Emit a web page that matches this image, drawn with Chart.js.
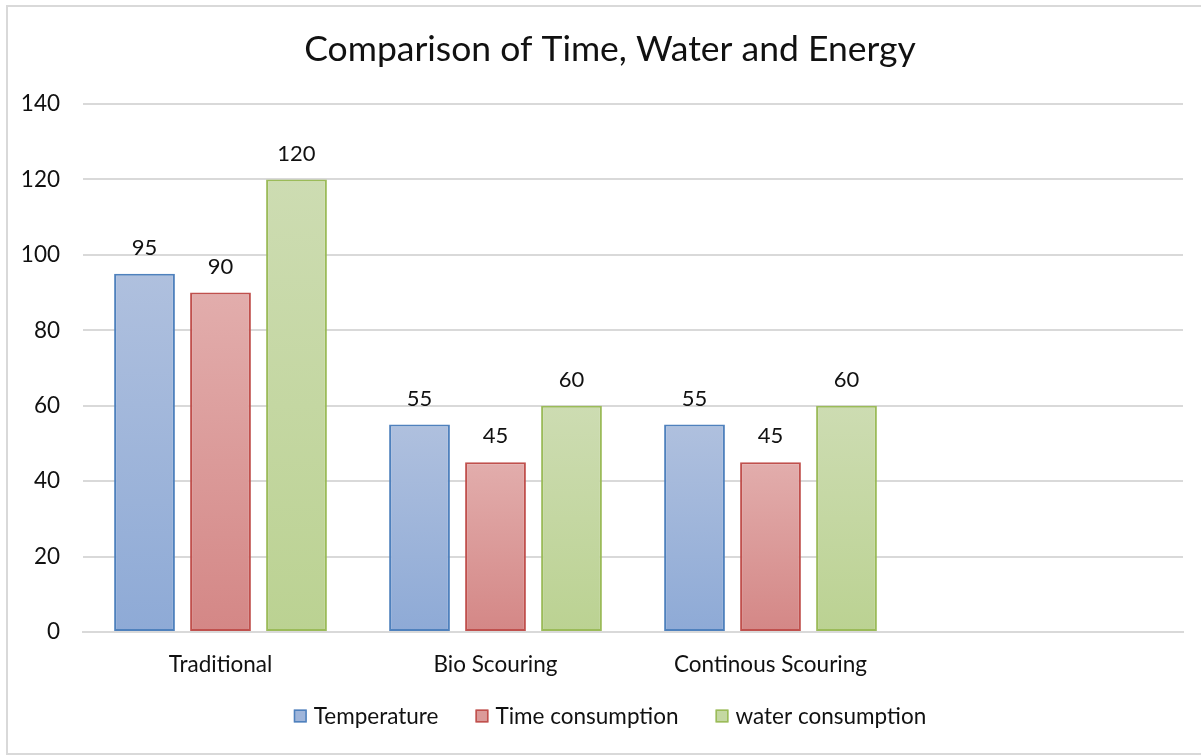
<!DOCTYPE html>
<html>
<head>
<meta charset="utf-8">
<script src="https://cdn.jsdelivr.net/npm/chart.js@4.4.1/dist/chart.umd.min.js"></script>
<style>
  html, body { margin: 0; padding: 0; background: #fff; }
  #wrap { position: relative; width: 1201px; height: 755px; overflow: hidden; }
  #frame { position: absolute; left: 6px; top: 5px; width: 1210px; height: 746px; border: 2px solid #d9d9d9; box-sizing: content-box; }
  canvas { position: absolute; left: 0; top: 0; }
</style>
</head>
<body>
<div id="wrap">
  <div id="frame"></div>
  <canvas id="c" width="1201" height="755"></canvas>
</div>
<script>
// Categories and series
const categories = ['Traditional', 'Bio Scouring', 'Continous Scouring', ''];
const temperature = [95, 55, 55, null];
const timeConsumption = [90, 45, 45, null];
const waterConsumption = [120, 60, 60, null];
const yTicks = [0, 20, 40, 60, 80, 100, 120, 140];
const chartTitle = 'Comparison of Time, Water and Energy';

const FONT = 'Lato, "Open Sans", sans-serif';
const TXT = 22.5;
const FRAME_CENTER_X = 610;

// Per-bar vertical gradient: lighter at the top, deeper at the base
function barGradient(top, bottom) {
  return function (ctx) {
    const chart = ctx.chart;
    if (ctx.type !== 'data' || ctx.parsed == null || !chart.scales.y) return bottom;
    const ys = chart.scales.y;
    const y0 = ys.getPixelForValue(ctx.parsed.y);
    const y1 = ys.getPixelForValue(0);
    if (!isFinite(y0) || !isFinite(y1) || y0 === y1) return bottom;
    const g = chart.ctx.createLinearGradient(0, y0, 0, y1);
    g.addColorStop(0, top);
    g.addColorStop(1, bottom);
    return g;
  };
}

const legendFill = ['#9fb5da', '#db9a99', '#c4d8a2'];

// Value labels above each bar, the heading and the legend row, all centred on the frame
const overlayText = {
  id: 'overlayText',
  afterDatasetsDraw(chart) {
    const ctx = chart.ctx;
    ctx.save();
    ctx.fillStyle = '#111';
    ctx.textBaseline = 'middle';

    // value labels
    ctx.font = '22px ' + FONT;
    ctx.textAlign = 'center';
    chart.data.datasets.forEach((ds, i) => {
      const meta = chart.getDatasetMeta(i);
      meta.data.forEach((bar, j) => {
        const v = ds.data[j];
        if (v == null) return;
        ctx.fillText(String(v), bar.x, bar.y - 26);
      });
    });

    // heading
    ctx.font = '35.5px ' + FONT;
    ctx.fillText(chartTitle, FRAME_CENTER_X, 50);

    // legend
    const box = 13, boxGap = 7, itemGap = 37, ly = 716;
    ctx.font = TXT + 'px ' + FONT;
    const widths = chart.data.datasets.map(ds => box + boxGap + ctx.measureText(ds.label).width);
    const total = widths.reduce((a, b) => a + b, 0) + itemGap * (widths.length - 1);
    let x = FRAME_CENTER_X - total / 2;
    ctx.textAlign = 'left';
    chart.data.datasets.forEach((ds, i) => {
      ctx.fillStyle = legendFill[i];
      ctx.fillRect(x, ly - box / 2, box, box);
      ctx.strokeStyle = ds.borderColor;
      ctx.lineWidth = 1.5;
      ctx.strokeRect(x + 0.75, ly - box / 2 + 0.75, box - 1.5, box - 1.5);
      ctx.fillStyle = '#111';
      ctx.fillText(ds.label, x + box + boxGap, ly + 1);
      x += widths[i] + itemGap;
    });
    ctx.restore();
  }
};

new Chart(document.getElementById('c'), {
  type: 'bar',
  data: {
    labels: categories,
    datasets: [
      { label: 'Temperature', data: temperature,
        backgroundColor: barGradient('#afc0de', '#8eaad6'), borderColor: '#4f81bd' },
      { label: 'Time consumption', data: timeConsumption,
        backgroundColor: barGradient('#e2adac', '#d48786'), borderColor: '#c0504d' },
      { label: 'water consumption', data: waterConsumption,
        backgroundColor: barGradient('#cddcb2', '#bbd292'), borderColor: '#9bbb59' }
    ]
  },
  options: {
    responsive: false,
    animation: false,
    devicePixelRatio: 1,
    layout: { padding: { left: 0, right: 18, top: 104, bottom: 60 } },
    datasets: {
      bar: { borderWidth: 2, categoryPercentage: 0.829, barPercentage: 0.8, borderSkipped: false }
    },
    plugins: {
      title: { display: false },
      legend: { display: false },
      tooltip: { enabled: false }
    },
    scales: {
      x: {
        grid: { display: false },
        border: { display: true, color: '#d9d9d9', width: 2 },
        ticks: { color: '#111', font: { family: FONT, size: TXT }, padding: 11, maxRotation: 0 },
        afterFit(s) { s.height = 63; }
      },
      y: {
        min: 0, max: 140,
        afterBuildTicks(s) { s.ticks = yTicks.map(v => ({ value: v })); },
        grid: { color: '#d9d9d9', lineWidth: 2, drawTicks: false },
        border: { display: false },
        ticks: { color: '#111', font: { family: FONT, size: TXT }, padding: 23 },
        afterFit(s) { s.width = 83; }
      }
    }
  },
  plugins: [overlayText]
});
</script>
</body>
</html>
